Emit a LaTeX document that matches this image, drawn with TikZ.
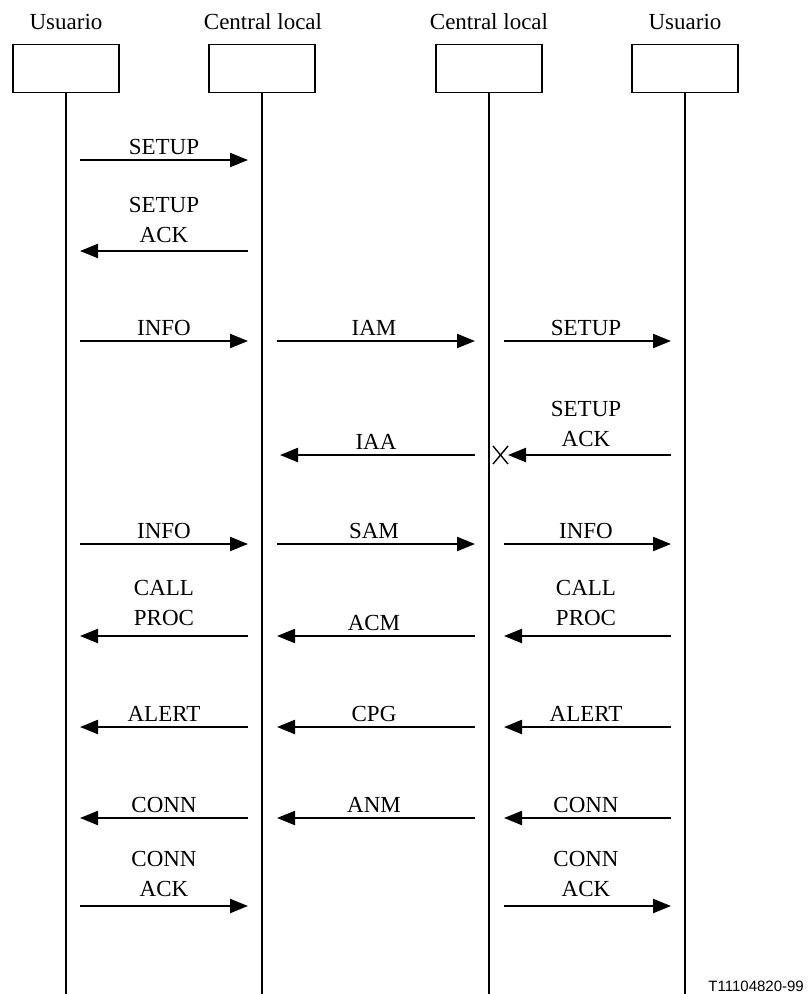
\documentclass[tikz,border=0pt]{standalone}
\usepackage{fontspec}
\setmainfont{Liberation Serif}
\newfontfamily\figsans{Liberation Sans}
\usetikzlibrary{arrows.meta}
\begin{document}
\begin{tikzpicture}[x=1pt,y=-1pt,
  ent/.style={draw,line width=1.3pt,minimum width=106pt,minimum height=48pt,inner sep=0pt,anchor=north},
  hdr/.style={font=\fontsize{23}{28}\selectfont,inner sep=0pt,anchor=base},
  life/.style={line width=2.2pt},
  msgarrow/.style={line width=2.2pt,-{Triangle[length=18pt,width=14pt]}},
  lbl/.style={font=\fontsize{23}{30}\selectfont,inner sep=0pt,anchor=south,align=center,text depth=0pt},
  xmark/.style={line width=1.4pt}]
\useasboundingbox (0,0) rectangle (807,994);
% entities
\node[hdr] (h1) at (66,29) {Usuario};
\node[hdr] (h2) at (263,29) {Central local};
\node[hdr] (h3) at (489,29) {Central local};
\node[hdr] (h4) at (685,29) {Usuario};
\node[ent] (u1) at (66,44) {};
\node[ent] (c1) at (262,44) {};
\node[ent] (c2) at (489,44) {};
\node[ent] (u2) at (685,44) {};
\coordinate (u1b) at (66,994);
\coordinate (c1b) at (262,994);
\coordinate (c2b) at (489,994);
\coordinate (u2b) at (685,994);
\draw[life] (u1.south) -- (u1b);
\draw[life] (c1.south) -- (c1b);
\draw[life] (c2.south) -- (c2b);
\draw[life] (u2.south) -- (u2b);
% row 1
\coordinate (a1s) at (80,160); \coordinate (a1e) at (248,160);
\draw[msgarrow] (a1s) -- (a1e);
\node[lbl] (l1) at (164,155) {SETUP};
% row 2
\coordinate (a2s) at (248,251); \coordinate (a2e) at (80,251);
\draw[msgarrow] (a2s) -- (a2e);
\node[lbl] (l2) at (164,243) {SETUP\\ACK};
% row 3
\coordinate (a3s) at (80,341); \coordinate (a3e) at (248,341);
\draw[msgarrow] (a3s) -- (a3e);
\node[lbl] (l3) at (164,336) {INFO};
\coordinate (b3s) at (277,341); \coordinate (b3e) at (475,341);
\draw[msgarrow] (b3s) -- (b3e);
\node[lbl] (m3) at (374,336) {IAM};
\coordinate (c3s) at (504,341); \coordinate (c3e) at (671,341);
\draw[msgarrow] (c3s) -- (c3e);
\node[lbl] (r3) at (586,336) {SETUP};
% row 4
\coordinate (b4s) at (475,455); \coordinate (b4e) at (280,455);
\draw[msgarrow] (b4s) -- (b4e);
\node[lbl] (m4) at (376,450) {IAA};
\coordinate (c4s) at (671,455); \coordinate (c4e) at (508,455);
\draw[msgarrow] (c4s) -- (c4e);
\node[lbl] (r4) at (586,447) {SETUP\\ACK};
\coordinate (x1) at (493,446); \coordinate (x2) at (508,464);
\coordinate (x3) at (493,464); \coordinate (x4) at (508,446);
\draw[xmark] (x1) -- (x2);
\draw[xmark] (x3) -- (x4);
% row 5
\coordinate (a5s) at (80,544); \coordinate (a5e) at (248,544);
\draw[msgarrow] (a5s) -- (a5e);
\node[lbl] (l5) at (164,539) {INFO};
\coordinate (b5s) at (277,544); \coordinate (b5e) at (475,544);
\draw[msgarrow] (b5s) -- (b5e);
\node[lbl] (m5) at (374,539) {SAM};
\coordinate (c5s) at (504,544); \coordinate (c5e) at (671,544);
\draw[msgarrow] (c5s) -- (c5e);
\node[lbl] (r5) at (586,539) {INFO};
% row 6
\coordinate (a6s) at (248,636); \coordinate (a6e) at (80,636);
\draw[msgarrow] (a6s) -- (a6e);
\node[lbl] (l6) at (164,626) {CALL\\PROC};
\coordinate (b6s) at (475,636); \coordinate (b6e) at (277,636);
\draw[msgarrow] (b6s) -- (b6e);
\node[lbl] (m6) at (374,631) {ACM};
\coordinate (c6s) at (671,636); \coordinate (c6e) at (504,636);
\draw[msgarrow] (c6s) -- (c6e);
\node[lbl] (r6) at (586,626) {CALL\\PROC};
% row 7
\coordinate (a7s) at (248,727); \coordinate (a7e) at (80,727);
\draw[msgarrow] (a7s) -- (a7e);
\node[lbl] (l7) at (164,722) {ALERT};
\coordinate (b7s) at (475,727); \coordinate (b7e) at (277,727);
\draw[msgarrow] (b7s) -- (b7e);
\node[lbl] (m7) at (374,722) {CPG};
\coordinate (c7s) at (671,727); \coordinate (c7e) at (504,727);
\draw[msgarrow] (c7s) -- (c7e);
\node[lbl] (r7) at (586,722) {ALERT};
% row 8
\coordinate (a8s) at (248,818); \coordinate (a8e) at (80,818);
\draw[msgarrow] (a8s) -- (a8e);
\node[lbl] (l8) at (164,813) {CONN};
\coordinate (b8s) at (475,818); \coordinate (b8e) at (277,818);
\draw[msgarrow] (b8s) -- (b8e);
\node[lbl] (m8) at (374,813) {ANM};
\coordinate (c8s) at (671,818); \coordinate (c8e) at (504,818);
\draw[msgarrow] (c8s) -- (c8e);
\node[lbl] (r8) at (586,813) {CONN};
% row 9
\coordinate (a9s) at (80,906); \coordinate (a9e) at (248,906);
\draw[msgarrow] (a9s) -- (a9e);
\node[lbl] (l9) at (164,897) {CONN\\ACK};
\coordinate (c9s) at (504,906); \coordinate (c9e) at (671,906);
\draw[msgarrow] (c9s) -- (c9e);
\node[lbl] (r9) at (586,897) {CONN\\ACK};
% figure id
\node[font=\figsans\fontsize{15}{18}\selectfont,inner sep=0pt,anchor=base east] (fid) at (804,991) {T11104820-99};
\end{tikzpicture}
\end{document}
